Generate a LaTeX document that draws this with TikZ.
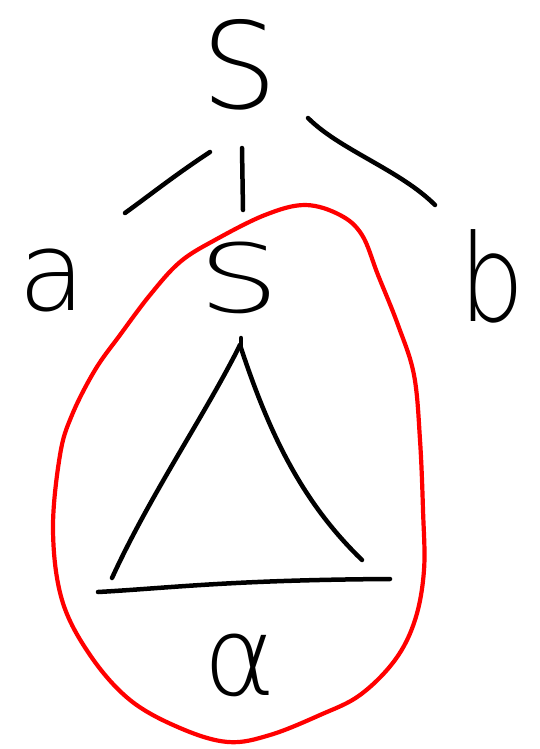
\documentclass[tikz,border=0pt]{standalone}
\usepackage{fontspec}
\newfontfamily\hand{DejaVu Sans ExtraLight}
\begin{document}
\begin{tikzpicture}[x=1pt,y=-1pt,
  ink/.style={line width=4.5pt, line cap=round, line join=round},
  loopline/.style={red, line width=4.2pt, line join=round},
  lbl/.style={inner sep=0pt}]
\useasboundingbox[fill=white] (0,0) rectangle (539,749);
% labels
\node[lbl, font=\hand\fontsize{120}{120}\selectfont] (S0) at (240,65) {S};
\node[lbl, font=\hand\fontsize{110}{110}\selectfont] (a) at (52,280) {a};
\node[lbl, font=\hand\fontsize{95}{95}\selectfont, xscale=1.35] (S1) at (239,278) {S};
\node[lbl, font=\hand\fontsize{121}{121}\selectfont, xscale=0.85] (b) at (492,276) {b};
\node[lbl, font=\hand\fontsize{110}{110}\selectfont] (alpha) at (240,665) {α};
% branch ends
\coordinate (e1s) at (210,152); \coordinate (e1t) at (125,213);
\coordinate (e2s) at (242,148); \coordinate (e2t) at (243,210);
\coordinate (e3s) at (308,118); \coordinate (e3t) at (435,205);
\draw[ink] (e1s) .. controls (175,175) and (150,195) .. (e1t);
\draw[ink] (e2s) -- (e2t);
\draw[ink] (e3s) .. controls (340,150) and (400,170) .. (e3t);
% triangle
\coordinate (apex) at (240,345);
\coordinate (tl) at (112,578);
\coordinate (tr) at (362,560);
\draw[ink] (241,338) -- (241,348);
\draw[ink] (apex) .. controls (205,415) and (150,495) .. (tl);
\draw[ink] (apex) .. controls (268,430) and (300,500) .. (tr);
\coordinate (bl) at (98,592); \coordinate (br) at (390,579);
\draw[ink] (bl) .. controls (170,588) and (230,580) .. (br);
% red loop
\draw[loopline] plot[smooth cycle, tension=0.6] coordinates {
 (305,205) (340,215) (362,235) (378,275) (398,325) (414,375) (420,440)
 (423,510) (424,570) (415,620) (395,660) (360,695) (320,715) (270,735)
 (228,742) (180,728) (130,700) (90,655) (62,600) (53,530) (60,455)
 (72,415) (95,370) (120,335) (150,295) (180,262) (215,240) (265,215)};
\end{tikzpicture}
\end{document}
